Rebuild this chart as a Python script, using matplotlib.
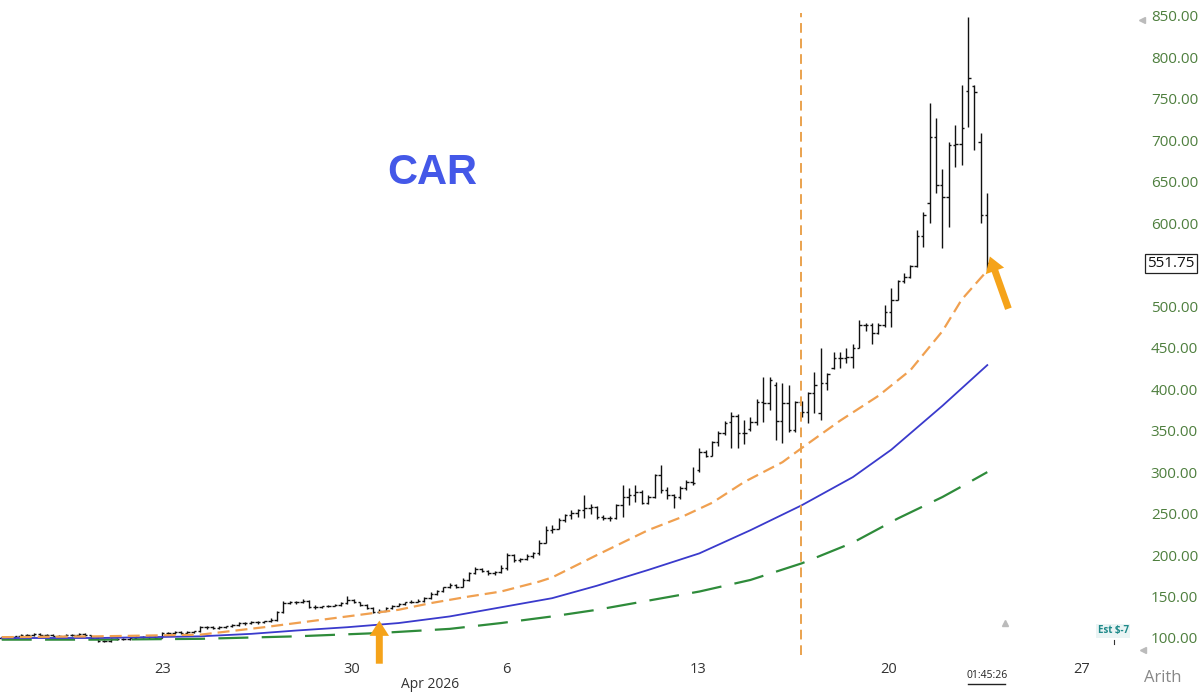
import matplotlib
matplotlib.use('Agg')
from matplotlib import pyplot as plt
import numpy as np

# OHLC bars left to right
opens = [100, 101, 101, 102, 104, 104, 105, 104, 104, 103,
         103, 104, 104, 105, 104, 100, 96, 96, 99, 99,
         99, 100, 101, 101, 101, 100, 106, 106, 107, 106,
         107, 108, 113, 113, 112, 113, 114, 116, 118, 118,
         119, 119, 120, 122, 131, 142, 143, 143, 145, 137,
         137, 138, 139, 140, 142, 146, 143, 140, 136, 131,
         133, 136, 139, 141, 143, 144, 145, 148, 153, 157,
         161, 164, 162, 170, 178, 183, 181, 178, 179, 184,
         200, 194, 195, 199, 202, 215, 230, 232, 242, 248,
         251, 254, 257, 258, 246, 245, 245, 260, 270, 272,
         276, 263, 270, 296, 278, 272, 270, 281, 288, 302,
         324, 320, 336, 347, 360, 368, 347, 352, 360, 385,
         383, 405, 362, 383, 351, 385, 372, 395, 371, 407,
         425, 437, 437, 439, 450, 477, 477, 468, 477, 493,
         508, 531, 535, 548, 585, 624, 704, 646, 632, 694,
         696, 760, 765, 698, 610]
highs = [102, 102, 103, 105, 105, 106, 106, 105, 105, 104,
         105, 105, 106, 106, 104, 101, 98, 100, 100, 100,
         101, 102, 102, 102, 102, 107, 107, 108, 108, 108,
         109, 114, 114, 114, 114, 115, 117, 119, 119, 120,
         120, 121, 124, 133, 145, 145, 145, 147, 146, 140,
         139, 140, 141, 143, 151, 147, 144, 141, 137, 135,
         137, 140, 142, 144, 146, 147, 150, 155, 158, 162,
         166, 165, 172, 180, 185, 184, 182, 181, 188, 203,
         201, 197, 201, 204, 218, 235, 236, 245, 250, 254,
         256, 272, 262, 259, 248, 247, 262, 284, 281, 284,
         278, 272, 298, 308, 282, 274, 283, 291, 306, 329,
         327, 338, 350, 362, 372, 370, 363, 366, 388, 415,
         415, 409, 407, 405, 386, 386, 397, 421, 450, 420,
         445, 445, 450, 455, 483, 480, 480, 480, 501, 522,
         532, 540, 550, 592, 614, 745, 727, 665, 698, 718,
         767, 849, 767, 709, 637]
lows = [99, 100, 100, 101, 103, 103, 103, 103, 102, 102,
        102, 103, 103, 103, 99, 95, 95, 95, 97, 98,
        98, 99, 100, 99, 99, 100, 104, 105, 105, 105,
        106, 107, 111, 111, 111, 112, 113, 115, 116, 117,
        117, 118, 119, 121, 130, 141, 141, 142, 136, 135,
        136, 137, 138, 139, 141, 142, 139, 135, 130, 130,
        132, 135, 138, 140, 142, 143, 144, 147, 152, 155,
        160, 160, 161, 169, 177, 179, 176, 176, 178, 182,
        192, 192, 194, 197, 200, 214, 226, 231, 240, 244,
        246, 245, 250, 244, 242, 241, 244, 246, 260, 264,
        262, 261, 269, 275, 268, 257, 268, 279, 285, 300,
        318, 319, 332, 345, 329, 329, 334, 350, 357, 361,
        375, 339, 335, 348, 348, 366, 359, 371, 363, 399,
        424, 425, 432, 425, 450, 470, 455, 466, 475, 475,
        507, 528, 534, 547, 571, 600, 637, 570, 596, 668,
        670, 716, 688, 600, 544]
closes = [101, 101, 102, 104, 104, 105, 104, 104, 103, 103,
          104, 104, 105, 104, 100, 96, 96, 99, 99, 99,
          100, 101, 101, 101, 100, 106, 106, 107, 106, 107,
          108, 113, 113, 112, 113, 114, 116, 118, 118, 119,
          119, 120, 122, 131, 142, 143, 143, 145, 137, 137,
          138, 139, 140, 142, 146, 143, 140, 136, 131, 133,
          136, 139, 141, 143, 144, 145, 148, 153, 157, 161,
          164, 162, 170, 178, 183, 181, 178, 179, 184, 200,
          194, 195, 199, 202, 215, 230, 232, 242, 248, 251,
          254, 257, 258, 246, 245, 245, 260, 270, 272, 276,
          263, 270, 296, 278, 272, 270, 281, 288, 287, 324,
          320, 336, 347, 359, 368, 347, 347, 360, 385, 383,
          411, 362, 383, 351, 385, 372, 395, 405, 407, 418,
          437, 437, 439, 450, 477, 477, 468, 477, 493, 508,
          531, 535, 548, 585, 610, 704, 646, 632, 694, 696,
          715, 775, 758, 610, 551.75]

# moving averages, read at these bars
fast_idx = [0, 15, 31, 41, 52, 59, 62, 67, 73, 78, 84, 86, 93, 101, 106, 111, 116, 122, 125,
            131, 137, 142, 147, 150, 154]
fast_val = [101, 102, 104, 113, 124, 131, 134, 142, 150, 156, 168, 173, 200, 230, 245, 263, 288,
            312, 329, 362, 392, 423, 470, 508, 543]
mid_idx = [0, 15, 31, 39, 46, 54, 62, 70, 78, 86, 93, 101, 109, 117, 125, 133, 139, 147, 154]
mid_val = [100, 100, 102, 105, 109, 113, 118, 126, 137, 148, 163, 182, 202, 230, 260, 294, 327,
           380, 429]
slow_idx = [0, 15, 31, 46, 59, 70, 78, 86, 93, 101, 109, 117, 125, 133, 140, 147, 151, 154]
slow_val = [98, 98, 99, 102, 106, 111, 118, 126, 134, 145, 156, 170, 190, 215, 244, 270, 287, 300]

date_pos = [25.2, 54.7, 78.8, 108.8, 138.6, 168.8]
date_lbl = ['23', '30', '6', '13', '20', '27']
price_ticks = [100, 150, 200, 250, 300, 350, 400, 450, 500, 600, 650, 700, 750, 800, 850]
last_price = 551.75
event_bar = 124.9

fig = plt.figure(figsize=(12, 6.92), dpi=100)
ax = fig.add_axes([0, 37 / 692, 1130 / 1200, 655 / 692])

x = np.arange(len(closes))
ax.vlines(x, lows, highs, color='#111111', lw=1.0)
ax.hlines(opens, x - 0.4, x, color='#111111', lw=1.0)
ax.hlines(closes, x, x + 0.4, color='#111111', lw=1.0)

ax.plot(slow_idx, slow_val, color='#2e8b3a', lw=1.6, dashes=(13.5, 6))
ax.plot(mid_idx, mid_val, color='#3a3acc', lw=1.3)
ax.plot(fast_idx, fast_val, color='#f0a050', lw=1.6, dashes=(5.4, 2.7))

ax.axvline(event_bar, ymin=0, ymax=0.98, color='#eaa24e', lw=1.4, dashes=(5, 3))

arrow = dict(facecolor='#f5a31a', edgecolor='none', width=5, headwidth=14, headlength=11, shrink=0)
ax.annotate('', xy=(59, 121), xytext=(59, 69), arrowprops=arrow, annotation_clip=False)
ax.annotate('', xy=(154.4, 560), xytext=(157.3, 497), arrowprops=arrow, annotation_clip=False)

ax.text(67.2, 661, 'CAR', fontsize=30, fontweight='bold', color='#4458e8',
        family='Liberation Sans', ha='center', va='center')

ax.set_xlim(-0.27, 176.3)
ax.set_ylim(79.5, 869.2)
for s in ax.spines.values():
    s.set_visible(False)

ax.yaxis.tick_right()
ax.set_yticks(price_ticks)
ax.set_yticklabels([f'{v:.2f}' for v in price_ticks], family='Open Sans')
ax.tick_params(axis='y', length=0, pad=15, labelsize=11, labelcolor='#4e7f3e')
ax.set_xticks(date_pos)
ax.set_xticklabels(date_lbl, family='Open Sans')
ax.tick_params(axis='x', length=0, pad=5, labelsize=10.5, labelcolor='#333333')

ytr = ax.get_yaxis_transform()
ax.text(1.0365, last_price, f'{last_price:.2f}', transform=ytr, ha='center', va='center',
        fontsize=11, family='Open Sans', color='#111111', clip_on=False,
        bbox=dict(boxstyle='square,pad=0.15', fc='white', ec='#222222', lw=0.9))

fig.text(430 / 1200, 1 - 685 / 692, 'Apr 2026', fontsize=10, family='Open Sans', color='#333333',
         ha='center', va='center')
fig.text(987 / 1200, 1 - 676 / 692, '01:45:26', fontsize=7.5, family='Open Sans', color='#222222',
         ha='center', va='center')
fig.add_artist(plt.Line2D([968 / 1200, 1005 / 1200], [1 - 684 / 692] * 2, color='#222222', lw=1))
fig.text(1163 / 1200, 1 - 678 / 692, 'Arith', fontsize=12, family='Open Sans', color='#888888',
         ha='center', va='center')
fig.text(1113 / 1200, 1 - 631 / 692, 'Est $-7', fontsize=7, family='Open Sans', fontweight='bold',
         color='#1f8a8a', ha='center', va='center',
         bbox=dict(boxstyle='square,pad=0.2', fc='#eaf4f4', ec='none'))
fig.add_artist(plt.Line2D([1114 / 1200] * 2, [1 - 640 / 692, 1 - 644 / 692], color='#333333', lw=0.8))
for px, py, m in [(1142, 20, '<'), (1143, 650, '<'), (1005, 623, '^')]:
    fig.add_artist(plt.Line2D([px / 1200], [1 - py / 692], marker=m, color='#bbbbbb', markersize=5, lw=0))

fig.savefig('out.png', dpi=100, facecolor='white')
